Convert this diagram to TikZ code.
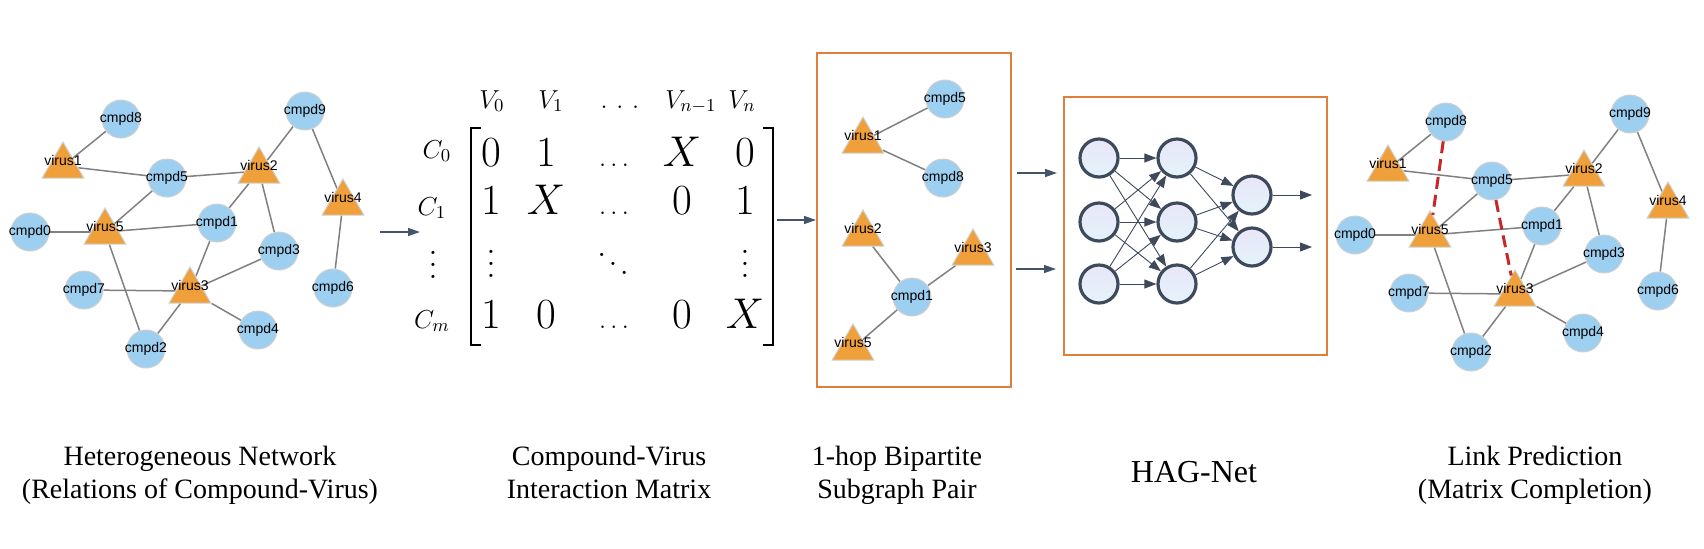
\documentclass[tikz,border=0pt]{standalone}
\usepackage{fix-cm}
\usepackage[no-math]{fontspec}
\setmainfont{Liberation Serif}
\newfontfamily\netfont{Liberation Sans}
\usepackage{amsmath}
\usetikzlibrary{shapes.geometric, arrows.meta, backgrounds}

\definecolor{cmpdblue}{HTML}{9DCFF0}
\definecolor{virusorange}{HTML}{F0A03A}
\definecolor{nodeline}{HTML}{CFCFCF}
\definecolor{edgegray}{HTML}{808080}
\definecolor{predred}{HTML}{C62828}
\definecolor{flowslate}{HTML}{44546A}
\definecolor{boxorange}{HTML}{E07E3C}
\definecolor{neuronline}{HTML}{3E4A5C}
\definecolor{neuronlav}{HTML}{E9E6F8}
\definecolor{neuronblue}{HTML}{E3F3FA}

\newcommand{\vdotsfit}{\vbox{\baselineskip4pt\lineskiplimit0pt\hbox{$.$}\hbox{$.$}\hbox{$.$}}}
\newcommand{\ddotsfit}{\hbox{\raise6pt\hbox{$.$}\kern1pt\raise3pt\hbox{$.$}\kern1pt\hbox{$.$}}}

\tikzset{
  netlabel/.style={font=\netfont\fontsize{7}{8}\selectfont, inner sep=0pt},
  cmpd/.style={circle, draw=nodeline, line width=0.5pt, fill=cmpdblue, minimum size=19pt, inner sep=0pt, label={[netlabel]center:#1}},
  virus/.style={regular polygon, regular polygon sides=3, draw=nodeline, line width=0.5pt, fill=virusorange, minimum size=24pt, inner sep=0pt, yshift=-3pt, label={[netlabel, yshift=3pt]center:#1}},
  netedge/.style={draw=edgegray, line width=0.75pt},
  predlink/.style={draw=predred, line width=1.5pt, dash pattern=on 6pt off 3pt},
  flow/.style={draw=flowslate, line width=0.7pt, -{Triangle[length=6pt,width=4pt]}},
  stagebox/.style={draw=boxorange, line width=1pt, inner sep=0pt},
  neuron/.style={circle, draw=neuronline, line width=1.6pt, top color=neuronlav, bottom color=neuronblue, minimum size=19pt, inner sep=0pt},
  nnlink/.style={draw=neuronline, line width=0.45pt, -{Triangle[length=6pt,width=4.5pt]}},
  caption/.style={font=\fontsize{14}{16.5}\selectfont, align=center, anchor=north, inner sep=0pt},
  hagcaption/.style={font=\fontsize{16}{19}\selectfont, inner sep=0pt},
  entry/.style={font=\fontsize{21.5}{24}\selectfont, anchor=base, inner sep=0pt},
  axislabel/.style={font=\fontsize{13}{15}\selectfont, anchor=base, inner sep=0pt},
  bigdots/.style={font=\fontsize{10}{12}\selectfont, scale=1.5, inner sep=0pt},
  bracket/.style={line width=1.3pt},
}

\newcommand{\hetnet}{%
  \foreach \n/\x/\y in {cmpd8/121/119, cmpd5/167/178, cmpd9/305/111, cmpd0/30/232, cmpd1/217/223,
      cmpd3/279/251, cmpd7/84/290, cmpd6/333/288, cmpd4/258/330, cmpd2/146/349}
    \node[cmpd=\n] (\n) at (\x,\y) {};
  \foreach \n/\x/\y in {virus1/63/160, virus2/259/165, virus4/343/197, virus5/105/226, virus3/190/285}
    \node[virus=\n] (\n) at (\x,\y) {};
  \begin{scope}[on background layer]
    \foreach \a/\b in {virus1/cmpd8, virus1/cmpd5, cmpd5/virus2, virus2/cmpd9, cmpd9/virus4, virus4/cmpd6,
        cmpd5/virus5, cmpd0/virus5, virus5/cmpd1, virus2/cmpd1, virus2/cmpd3, virus5/cmpd2,
        cmpd1/virus3, cmpd3/virus3, cmpd7/virus3, virus3/cmpd2, virus3/cmpd4}
      \draw[netedge] (\a) -- (\b);
  \end{scope}
}

\begin{document}
\begin{tikzpicture}[x=0.5pt, y=-0.5pt]
  \useasboundingbox (0,0) rectangle (1704,548);

  \begin{scope}[name prefix=l-]
    \hetnet
  \end{scope}

  \node[axislabel] (v0) at (492,108) {$V_0$};
  \node[axislabel] (v1) at (551,108) {$V_1$};
  \node[axislabel] (vdots) at (620,108) {$.\mkern6mu.\mkern6mu.$};
  \node[axislabel] (vn1) at (691,108) {$V_{n-1}$};
  \node[axislabel] (vn) at (742,108) {$V_n$};
  \node[axislabel] (c0) at (437,158) {$C_0$};
  \node[axislabel] (c1) at (432,215) {$C_1$};
  \node[bigdots] (cdots) at (433,265) {\vdotsfit};
  \node[axislabel] (cm) at (432,328) {$C_m$};
  \foreach \x/\v/\n in {491/0/00, 546/1/01, 682/X/03, 745/0/04}
    \node[entry] (m\n) at (\x,166) {$\v$};
  \foreach \x/\v/\n in {491/1/10, 546/X/11, 682/0/13, 745/1/14}
    \node[entry] (m\n) at (\x,214) {$\v$};
  \foreach \x/\v/\n in {491/1/30, 546/0/31, 682/0/33, 745/X/34}
    \node[entry] (m\n) at (\x,328) {$\v$};
  \foreach \y/\n in {166/0, 214/1, 328/3}
    \node[axislabel] (m\n2) at (614,\y) {$\ldots$};
  \node[bigdots] (m20) at (491,264) {\vdotsfit};
  \node[bigdots] (m22) at (613,264) {\ddotsfit};
  \node[bigdots] (m24) at (745,264) {\vdotsfit};
  \draw[bracket] (481,128) -- (471,128) -- (471,345) -- (481,345);
  \draw[bracket] (763,128) -- (773,128) -- (773,345) -- (763,345);

  \node[stagebox, minimum width=97pt, minimum height=167pt] (subbox) at (914,220) {};
  \begin{scope}[name prefix=s-]
    \foreach \n/\x/\y in {cmpd5/945/99, cmpd8/943/178, cmpd1/912/297}
      \node[cmpd=\n] (\n) at (\x,\y) {};
    \foreach \n/\x/\y in {virus1/863/135, virus2/863/228, virus3/973/247, virus5/853/342}
      \node[virus=\n] (\n) at (\x,\y) {};
    \begin{scope}[on background layer]
      \foreach \a/\b in {virus1/cmpd5, virus1/cmpd8, virus2/cmpd1, virus3/cmpd1, virus5/cmpd1}
        \draw[netedge] (\a) -- (\b);
    \end{scope}
  \end{scope}

  \node[stagebox, minimum width=131.5pt, minimum height=129pt] (hagbox) at (1195.5,226) {};
  \foreach \i/\y in {1/158, 2/222, 3/284} {
    \node[neuron] (a\i) at (1099,\y) {};
    \node[neuron] (b\i) at (1177,\y) {};
  }
  \foreach \i/\y in {1/195, 2/247}
    \node[neuron] (c\i) at (1252,\y) {};
  \foreach \i in {1,2,3}
    \foreach \j in {1,2,3}
      \draw[nnlink] (a\i) -- (b\j);
  \foreach \i in {1,2,3}
    \foreach \j in {1,2}
      \draw[nnlink] (b\i) -- (c\j);
  \coordinate (nnout1) at (1312,195);
  \coordinate (nnout2) at (1312,247);
  \draw[nnlink] (c1) -- (nnout1);
  \draw[nnlink] (c2) -- (nnout2);

  \begin{scope}[name prefix=r-, shift={(1325,3)}]
    \hetnet
    \draw[predlink] (cmpd8) -- (virus5);
    \draw[predlink] (cmpd5) -- (virus3);
  \end{scope}

  \coordinate (netout) at (380,232);
  \coordinate (matin) at (420,232);
  \coordinate (matout) at (777,220);
  \coordinate (subout1) at (1017,173);
  \coordinate (hagin1) at (1057,173);
  \coordinate (subout2) at (1016,269);
  \coordinate (hagin2) at (1056,269);
  \draw[flow] (netout) -- (matin);
  \draw[flow] (matout) -- (subbox.west);
  \draw[flow] (subout1) -- (hagin1);
  \draw[flow] (subout2) -- (hagin2);

  \node[caption] (capnet) at (200,446) {Heterogeneous Network\\(Relations of Compound-Virus)};
  \node[caption] (capmat) at (609,446) {Compound-Virus\\Interaction Matrix};
  \node[caption] (capsub) at (897,446) {1-hop Bipartite\\Subgraph Pair};
  \node[hagcaption] (caphag) at (1194,472) {HAG-Net};
  \node[caption] (capout) at (1535,446) {Link Prediction\\(Matrix Completion)};
\end{tikzpicture}
\end{document}
